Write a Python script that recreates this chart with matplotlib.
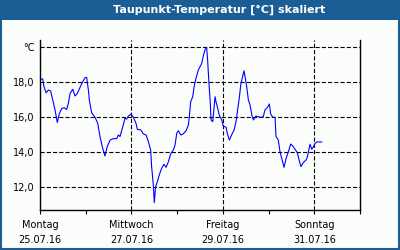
import matplotlib
matplotlib.use("Agg")
from matplotlib import pyplot as plt
from matplotlib.patches import Rectangle

# Stunden seit Mo 25.07.16 00:00 und Taupunkt in °C
hours = [0.5, 1.4, 2.1, 3.2, 4.4, 5.6, 6.7, 7.9, 9.1, 10.1, 11.4, 12.6, 14.0, 14.9,
         15.8, 17.2, 18.4, 19.6, 21.0, 22.4, 23.6, 24.5, 25.4, 25.9, 27.1, 28.9,
         30.3, 31.5, 32.9, 34.1, 35.3, 36.8, 38.5, 40.3, 41.1, 42.0, 43.4, 44.6,
         45.5, 46.4, 47.8, 49.0, 50.4, 51.1, 52.9, 54.2, 55.7, 56.9, 58.1, 58.6,
         59.5, 60.0, 60.7, 61.6, 62.6, 63.9, 65.1, 66.2, 67.4, 68.6, 70.0, 70.9,
         71.8, 72.6, 73.9, 75.2, 76.7, 77.9, 78.4, 79.1, 80.2, 80.9, 81.9, 83.1,
         84.0, 84.9, 85.7, 86.6, 87.5, 88.0, 88.7, 89.3, 89.8, 90.7, 91.4, 91.9,
         92.4, 93.1, 94.1, 95.4, 96.2, 97.7, 98.3, 99.4, 100.6, 101.9, 102.9,
         103.6, 104.6, 105.5, 106.4, 107.1, 107.8, 108.5, 109.4, 110.3, 111.2,
         112.0, 113.4, 114.6, 115.9, 117.2, 118.1, 119.3, 120.4, 121.1, 122.2,
         123.4, 123.9, 125.1, 126.0, 126.9, 128.1, 129.2, 130.4, 131.6, 132.7,
         133.9, 135.1, 136.1, 137.0, 138.2, 139.7, 140.3, 141.1, 141.8, 142.7,
         143.5, 144.4, 145.3, 147.9]
taupunkt = [18.17, 18.2, 17.75, 17.4, 17.56, 17.5, 16.99, 16.42, 15.7, 16.2, 16.5,
            16.55, 16.45, 16.8, 17.37, 17.6, 17.22, 17.37, 17.71, 18.03, 18.26,
            18.28, 17.56, 17.0, 16.26, 16.0, 15.66, 14.9, 14.23, 13.79, 14.32,
            14.7, 14.78, 14.78, 14.99, 14.9, 15.43, 15.94, 15.9, 16.07, 16.19,
            16.0, 15.66, 15.31, 15.28, 15.05, 14.99, 14.6, 14.13, 13.18, 12.13,
            11.12, 12.03, 12.32, 12.7, 13.09, 13.31, 13.14, 13.46, 13.9, 14.13,
            14.42, 15.09, 15.23, 14.99, 15.05, 15.23, 15.56, 16.03, 16.89, 17.18,
            17.75, 18.23, 18.7, 18.89, 19.08, 19.5, 19.85, 20.0, 19.27, 17.94,
            16.99, 15.85, 15.75, 16.6, 17.18, 16.89, 16.6, 16.13, 15.85, 15.5,
            15.43, 15.09, 14.7, 14.99, 15.27, 15.75, 16.32, 17.09, 17.94, 18.36,
            18.66, 18.23, 17.75, 16.99, 16.7, 16.13, 15.85, 16.07, 16.03, 16.0,
            16.03, 16.42, 16.55, 16.76, 16.19, 16.0, 16.0, 14.9, 14.7, 14.03,
            13.65, 13.14, 13.65, 14.03, 14.47, 14.36, 14.17, 13.98, 13.52, 13.18,
            13.41, 13.56, 13.71, 14.13, 14.46, 14.17, 14.32, 14.51, 14.59, 14.59]

day_ticks = [0, 48, 96, 144]
day_labels = ["Montag\n25.07.16", "Mittwoch\n27.07.16",
              "Freitag\n29.07.16", "Sonntag\n31.07.16"]
y_ticks = [12, 14, 16, 18, 20]
y_labels = ["12,0", "14,0", "16,0", "18,0", "°C"]

blue = "#1b5e95"
plt.rcParams["lines.scale_dashes"] = False

fig = plt.figure(figsize=(4, 2.5), dpi=100, facecolor="#fbfdfb")

# Rahmen und Titelleiste
fig.patches.append(Rectangle((0, 0.92), 1, 0.08, transform=fig.transFigure,
                             facecolor=blue, edgecolor="none", zorder=0))
fig.patches.append(Rectangle((0.002, 0.004), 0.995, 0.994, transform=fig.transFigure,
                             facecolor="none", edgecolor=blue, lw=1.5, zorder=5))
fig.text(0.548, 0.96, "Taupunkt-Temperatur [°C] skaliert", color="white",
         fontsize=8, fontweight="bold", ha="center", va="center")

ax = fig.add_axes([0.1, 0.16, 0.8, 0.68])
ax.set_facecolor("#fbfdfb")
ax.plot(hours, taupunkt, color="#0000ff", lw=0.8, zorder=3)

ax.set_xlim(0, 168)
ax.set_ylim(10.7, 20.42)
ax.set_xticks(day_ticks)
ax.set_xticklabels(day_labels, fontsize=7, linespacing=1.6)
ax.set_xticks([24, 72, 120, 168], minor=True)
ax.set_yticks(y_ticks)
ax.set_yticklabels(y_labels, fontsize=7)
ax.tick_params(axis="x", which="both", length=3, width=0.8, pad=4)
ax.tick_params(axis="y", length=0, pad=4)

ax.grid(True, which="major", color="black", lw=0.8, dashes=(3, 1.5))
ax.xaxis.get_gridlines()[0].set_visible(False)
ax.spines["top"].set_visible(False)
for s in ["left", "right", "bottom"]:
    ax.spines[s].set_linewidth(1.0)

plt.savefig("out.png", dpi=100, facecolor=fig.get_facecolor())
